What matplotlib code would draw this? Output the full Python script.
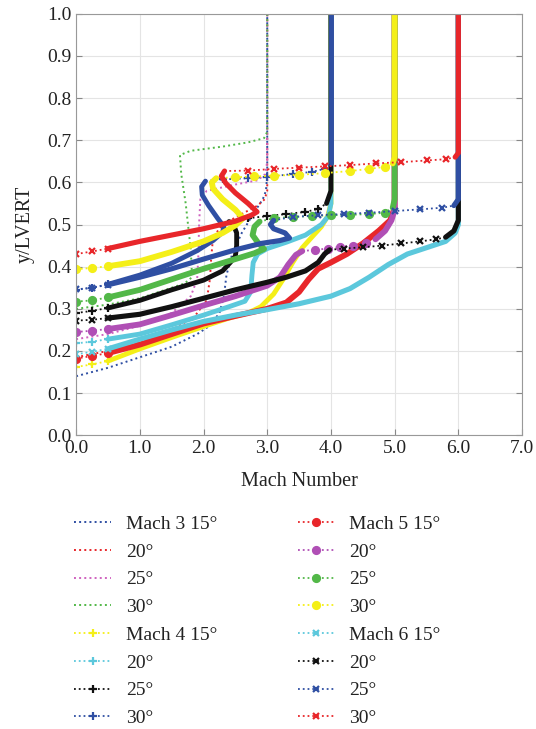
"""
Velocity profiles y/LVERT vs Mach number, Mach 3-6 at four ramp angles.
"""
import matplotlib
matplotlib.use("Agg")
import matplotlib.pyplot as plt
from matplotlib.lines import Line2D

plt.rcParams["font.family"] = ["Liberation Serif", "DejaVu Serif"]

# ---- points, (Mach, y/LVERT) ----
# wall = profile from the wall, jump = sparse part, edge = run into freestream
m3_15_wall = [(0, 0.14), (0.5, 0.16), (1.0, 0.185), (1.5, 0.21), (1.9, 0.24), (2.1, 0.26),
              (2.25, 0.29), (2.32, 0.33), (2.36, 0.38), (2.45, 0.43), (2.6, 0.48),
              (2.8, 0.53), (2.93, 0.56)]
m3_15_jump = []
m3_15_edge = [(2.98, 0.58), (3.0, 0.62), (3.0, 1.0)]

m3_20_wall = [(0, 0.185), (0.5, 0.2), (1.0, 0.22), (1.5, 0.25), (1.85, 0.28), (2.05, 0.32),
              (2.1, 0.37), (2.12, 0.42), (2.15, 0.47), (2.3, 0.5), (2.6, 0.525),
              (2.85, 0.545), (2.96, 0.56)]
m3_20_jump = []
m3_20_edge = [(3.0, 0.58), (3.0, 1.0)]

m3_25_wall = [(0, 0.228), (0.5, 0.24), (1.0, 0.26), (1.5, 0.29), (1.8, 0.33), (1.9, 0.37),
              (1.92, 0.43), (1.93, 0.5), (1.95, 0.56), (2.05, 0.58), (2.5, 0.595),
              (2.85, 0.605), (2.97, 0.62)]
m3_25_jump = []
m3_25_edge = [(3.0, 0.65), (3.0, 1.0)]

m3_30_wall = [(0, 0.30), (0.5, 0.31), (1.0, 0.325), (1.4, 0.345), (1.7, 0.36), (1.82, 0.375),
              (1.8, 0.44), (1.72, 0.55), (1.65, 0.62), (1.63, 0.665), (1.8, 0.675),
              (2.3, 0.685), (2.7, 0.695), (2.95, 0.705)]
m3_30_jump = []
m3_30_edge = [(3.0, 0.72), (3.0, 1.0)]

m4_15_wall = [(0, 0.162), (0.25, 0.168), (0.5, 0.176), (1.0, 0.205), (1.5, 0.232), (2.0, 0.258),
              (2.4, 0.278), (2.7, 0.29), (2.9, 0.305), (3.1, 0.335), (3.25, 0.37),
              (3.4, 0.41), (3.55, 0.445), (3.7, 0.47), (3.85, 0.495), (3.95, 0.52)]
m4_15_jump = []
m4_15_edge = [(4.0, 0.55), (4.0, 1.0)]

m4_20_wall = [(0, 0.218), (0.25, 0.222), (0.5, 0.228), (1.0, 0.24), (1.5, 0.262), (2.0, 0.285),
              (2.4, 0.305), (2.65, 0.318), (2.74, 0.34), (2.76, 0.38), (2.78, 0.41),
              (2.85, 0.43), (3.0, 0.443), (3.3, 0.458), (3.6, 0.475), (3.85, 0.5), (3.96, 0.52)]
m4_20_jump = []
m4_20_edge = [(4.0, 0.55), (4.0, 1.0)]

m4_25_wall = [(0, 0.29), (0.25, 0.295), (0.5, 0.302), (1.0, 0.32), (1.5, 0.345), (2.0, 0.368),
              (2.3, 0.39), (2.42, 0.41), (2.5, 0.425), (2.52, 0.45), (2.52, 0.48),
              (2.47, 0.5), (2.4, 0.507)]
m4_25_jump = [(2.7, 0.515), (3.0, 0.52), (3.3, 0.525), (3.6, 0.53), (3.8, 0.537)]
m4_25_edge = [(3.93, 0.55), (4.0, 0.58), (4.0, 1.0)]

m4_30_wall = [(0, 0.345), (0.25, 0.35), (0.5, 0.358), (1.0, 0.38), (1.5, 0.408), (1.9, 0.438),
              (2.15, 0.462), (2.3, 0.482), (2.32, 0.495), (2.22, 0.515), (2.08, 0.545),
              (1.98, 0.57), (1.97, 0.59), (2.03, 0.603)]
m4_30_jump = [(2.3, 0.607), (2.7, 0.61), (3.0, 0.613), (3.4, 0.62), (3.7, 0.625), (3.9, 0.632)]
m4_30_edge = [(4.0, 0.645), (4.0, 1.0)]

m5_15_wall = [(0, 0.182), (0.25, 0.188), (0.5, 0.195), (1.0, 0.215), (1.5, 0.24), (2.0, 0.265),
              (2.5, 0.283), (3.0, 0.3), (3.3, 0.315), (3.5, 0.34), (3.65, 0.37), (3.8, 0.395),
              (4.0, 0.41), (4.25, 0.43), (4.5, 0.455), (4.75, 0.485), (4.93, 0.51)]
m5_15_jump = []
m5_15_edge = [(5.0, 0.54), (5.0, 1.0)]

m5_20_wall = [(0, 0.245), (0.25, 0.248), (0.5, 0.252), (1.0, 0.263), (1.5, 0.285), (2.0, 0.308),
              (2.5, 0.33), (3.0, 0.355), (3.2, 0.375), (3.33, 0.405), (3.45, 0.428), (3.55, 0.437)]
m5_20_jump = [(3.75, 0.44), (3.95, 0.443), (4.15, 0.447), (4.35, 0.45), (4.55, 0.455)]
m5_20_edge = [(4.7, 0.465), (4.85, 0.485), (4.95, 0.51), (5.0, 0.535), (5.0, 1.0)]

m5_25_wall = [(0, 0.317), (0.25, 0.32), (0.5, 0.327), (1.0, 0.345), (1.5, 0.37), (2.0, 0.395),
              (2.5, 0.418), (2.8, 0.432), (2.95, 0.442), (2.85, 0.458), (2.77, 0.475),
              (2.8, 0.495), (2.88, 0.507)]
m5_25_jump = [(3.1, 0.515), (3.4, 0.518), (3.7, 0.52), (4.0, 0.522), (4.3, 0.523),
              (4.6, 0.525), (4.85, 0.528)]
m5_25_edge = [(4.97, 0.54), (5.0, 0.56), (5.0, 1.0)]

m5_30_wall = [(0, 0.394), (0.25, 0.397), (0.5, 0.401), (1.0, 0.413), (1.5, 0.435), (2.0, 0.46),
              (2.3, 0.48), (2.5, 0.498), (2.62, 0.515), (2.5, 0.535), (2.3, 0.56),
              (2.15, 0.585), (2.13, 0.6), (2.2, 0.61)]
m5_30_jump = [(2.5, 0.612), (2.8, 0.614), (3.1, 0.616), (3.5, 0.618), (3.9, 0.622),
              (4.3, 0.627), (4.6, 0.632), (4.85, 0.637)]
m5_30_edge = [(4.97, 0.645), (5.0, 0.66), (5.0, 1.0)]

m6_15_wall = [(0, 0.192), (0.25, 0.198), (0.5, 0.205), (1.0, 0.228), (1.5, 0.25), (2.0, 0.27),
              (2.5, 0.285), (3.0, 0.298), (3.5, 0.312), (4.0, 0.33), (4.3, 0.348),
              (4.6, 0.375), (4.9, 0.405), (5.2, 0.43), (5.5, 0.445), (5.8, 0.46), (5.95, 0.48)]
m6_15_jump = []
m6_15_edge = [(6.0, 0.5), (6.0, 1.0)]

m6_20_wall = [(0, 0.272), (0.25, 0.274), (0.5, 0.278), (1.0, 0.287), (1.5, 0.305), (2.0, 0.325),
              (2.5, 0.345), (3.0, 0.363), (3.3, 0.375), (3.6, 0.39), (3.8, 0.41),
              (3.9, 0.43), (3.98, 0.44)]
m6_20_jump = [(4.2, 0.443), (4.5, 0.446), (4.8, 0.45), (5.1, 0.455), (5.4, 0.46), (5.65, 0.465)]
m6_20_edge = [(5.8, 0.47), (5.93, 0.485), (6.0, 0.51), (6.0, 1.0)]

m6_25_wall = [(0, 0.346), (0.25, 0.35), (0.5, 0.357), (1.0, 0.375), (1.5, 0.395), (2.0, 0.418),
              (2.5, 0.44), (2.9, 0.455), (3.2, 0.462), (3.35, 0.468), (3.28, 0.48),
              (3.1, 0.49), (3.05, 0.5), (3.1, 0.51)]
m6_25_jump = [(3.4, 0.518), (3.8, 0.522), (4.2, 0.525), (4.6, 0.528), (5.0, 0.532),
              (5.4, 0.536), (5.75, 0.54)]
m6_25_edge = [(5.93, 0.545), (6.0, 0.56), (6.0, 1.0)]

m6_30_wall = [(0, 0.43), (0.25, 0.436), (0.5, 0.443), (1.0, 0.46), (1.5, 0.475), (2.0, 0.49),
              (2.5, 0.508), (2.75, 0.522), (2.84, 0.53), (2.7, 0.55), (2.5, 0.575),
              (2.35, 0.598), (2.28, 0.615), (2.33, 0.627)]
m6_30_jump = [(2.7, 0.628), (3.1, 0.632), (3.5, 0.635), (3.9, 0.638), (4.3, 0.641),
              (4.7, 0.645), (5.1, 0.648), (5.5, 0.652), (5.8, 0.655)]
m6_30_edge = [(5.95, 0.66), (6.0, 0.67), (6.0, 1.0)]

labels = ["Mach 3 15°", "20°", "25°", "30°",
          "Mach 4 15°", "20°", "25°", "30°",
          "Mach 5 15°", "20°", "25°", "30°",
          "Mach 6 15°", "20°", "25°", "30°"]

BLUE = "#2f4fa3"
RED = "#e8262a"
PINK = "#cf62bf"
MAGENTA = "#b04fb5"
GREEN = "#52b848"
YELLOW = "#f4ef18"
CYAN = "#5cc8dc"
BLACK = "#111111"

curves = [
    (m3_15_wall, m3_15_jump, m3_15_edge, BLUE, None),
    (m3_20_wall, m3_20_jump, m3_20_edge, RED, None),
    (m3_25_wall, m3_25_jump, m3_25_edge, PINK, None),
    (m3_30_wall, m3_30_jump, m3_30_edge, GREEN, None),
    (m4_15_wall, m4_15_jump, m4_15_edge, YELLOW, "+"),
    (m4_20_wall, m4_20_jump, m4_20_edge, CYAN, "+"),
    (m4_25_wall, m4_25_jump, m4_25_edge, BLACK, "+"),
    (m4_30_wall, m4_30_jump, m4_30_edge, BLUE, "+"),
    (m5_15_wall, m5_15_jump, m5_15_edge, RED, "o"),
    (m5_20_wall, m5_20_jump, m5_20_edge, MAGENTA, "o"),
    (m5_25_wall, m5_25_jump, m5_25_edge, GREEN, "o"),
    (m5_30_wall, m5_30_jump, m5_30_edge, YELLOW, "o"),
    (m6_15_wall, m6_15_jump, m6_15_edge, CYAN, "x"),
    (m6_20_wall, m6_20_jump, m6_20_edge, BLACK, "x"),
    (m6_25_wall, m6_25_jump, m6_25_edge, BLUE, "x"),
    (m6_30_wall, m6_30_jump, m6_30_edge, RED, "x"),
]

thick = {"+": 3.5, "o": 4.2, "x": 3.7}
msize = {"+": 6, "o": 5, "x": 5}


def xy(pts):
    return [p[0] for p in pts], [p[1] for p in pts]


fig = plt.figure(figsize=(5.36, 7.29), dpi=100)
ax = fig.add_axes([0.142, 0.403, 0.832, 0.578])

handles = []
for wall, jump, edge, color, marker in curves:
    if marker is None:
        x, y = xy(wall + jump + edge)
        ax.plot(x, y, ls=":", color=color, lw=1.4)
        handles.append(Line2D([], [], ls=":", color=color, lw=1.4))
        continue
    lw = thick[marker]
    ms = msize[marker]
    # sparse points close to the wall
    x, y = xy(wall[:3])
    ax.plot(x, y, ls=":", color=color, lw=1.3, marker=marker, ms=ms, mew=1.6)
    if jump:
        x, y = xy(wall[2:])
        ax.plot(x, y, color=color, lw=lw, solid_capstyle="round", solid_joinstyle="round")
        x, y = xy([wall[-1]] + jump + [edge[0]])
        ax.plot(x, y, ls=":", color=color, lw=1.3)
        x, y = xy(jump)
        ax.plot(x, y, ls="none", marker=marker, color=color, ms=ms, mew=1.6)
        x, y = xy(edge)
    else:
        x, y = xy(wall[2:] + edge)
    ax.plot(x, y, color=color, lw=lw, solid_capstyle="round", solid_joinstyle="round")
    handles.append(Line2D([], [], ls=":", color=color, lw=1.3, marker=marker,
                          ms=ms, mew=1.6))

ax.set_xlim(0, 7)
ax.set_ylim(0, 1)
ax.set_xticks(range(8))
ax.set_xticklabels([f"{v:.1f}" for v in range(8)])
ax.set_yticks([i / 10 for i in range(11)])
ax.set_yticklabels([f"{i / 10:.1f}" for i in range(11)])
ax.tick_params(direction="in", labelsize=14, right=True, length=4, color="#888888",
               labelcolor="#222222")
ax.grid(True, color="#e4e4e4", lw=0.8)
ax.set_axisbelow(True)
for s in ax.spines.values():
    s.set_color("#999999")
ax.set_xlabel("Mach Number", fontsize=14.5, labelpad=11, color="#222222")
ax.set_ylabel("y/LVERT", fontsize=14.5, labelpad=9, color="#222222")

fig.legend(handles, labels, ncol=2, loc="upper left", bbox_to_anchor=(0.106, 0.317),
           frameon=False, fontsize=14, handlelength=1.9, handletextpad=0.75,
           columnspacing=4.15, labelspacing=0.52, labelcolor="#222222")

fig.savefig("out.png", dpi=100)
